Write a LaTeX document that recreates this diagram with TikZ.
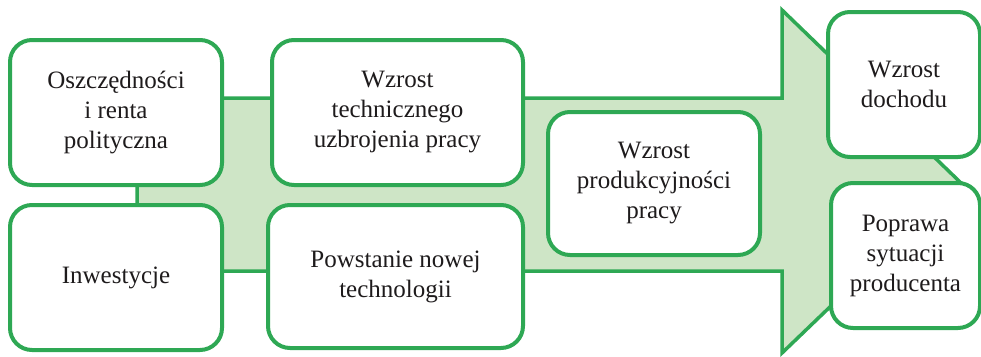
\documentclass[tikz,border=0pt]{standalone}
\usepackage{fontspec}
\setmainfont{Liberation Serif}
\usepackage{tikz}
\definecolor{ramka}{RGB}{46,168,84}
\definecolor{tlo}{RGB}{206,229,198}
\definecolor{tekst}{RGB}{30,27,28}

\begin{document}
\begin{tikzpicture}[x=1pt,y=-1pt]
\tikzstyle{every node}=[draw=ramka,line width=4pt,fill=white,rounded corners=22pt,
	align=center,text=tekst,font=\fontsize{25}{30}\selectfont,inner sep=0pt];
\useasboundingbox (0,0) rectangle (981,356);
% strzalka w tle
\draw[draw=ramka,fill=tlo,line width=3.5pt,line join=miter]
	(137,98) -- (782,98) -- (782,10) -- (960,182) -- (782,353) -- (782,271) -- (137,271) -- cycle;
% prostokaty
\node[minimum width=212pt,minimum height=145pt] (oszczednosci) at (116,112.5) {Oszczędności\\i renta\\polityczna};
\node[minimum width=251pt,minimum height=145pt] (uzbrojenie) at (397.5,112.5) {Wzrost\\technicznego\\uzbrojenia pracy};
\node[minimum width=212pt,minimum height=145pt] (inwestycje) at (116,277.5) {Inwestycje};
\node[minimum width=255pt,minimum height=143pt] (technologia) at (395.5,276.5) {Powstanie nowej\\technologii};
\node[minimum width=212pt,minimum height=143pt] (produkcyjnosc) at (654,183.5) {Wzrost\\produkcyjności\\pracy};
\node[minimum width=152pt,minimum height=145pt] (dochod) at (904,84.5) {Wzrost\\dochodu};
\node[minimum width=149pt,minimum height=145pt] (producent) at (905.5,255.5) {Poprawa\\sytuacji\\producenta};
\end{tikzpicture}
\end{document}
